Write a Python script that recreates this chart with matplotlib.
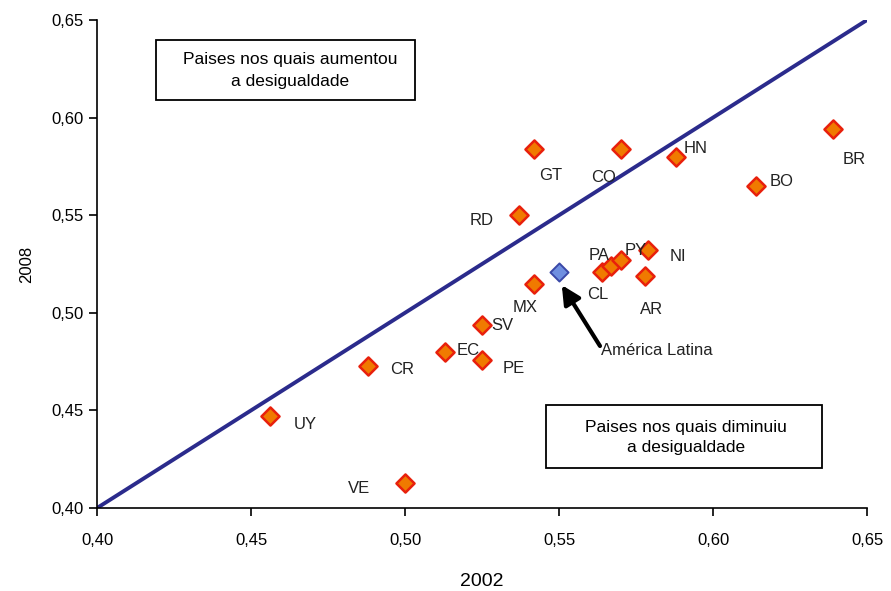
import numpy as np
import matplotlib
matplotlib.use('Agg')
import matplotlib.pyplot as plt
from matplotlib.patches import Rectangle

plt.rcParams['font.family'] = ['Liberation Sans', 'DejaVu Sans']

# dados: indice de Gini 2002 x 2008
paises = ['UY', 'VE', 'CR', 'EC', 'PE', 'SV', 'MX', 'RD', 'GT', 'CO', 'HN', 'BO', 'BR',
          'CL', 'PA', 'PY', 'NI', 'AR']
gini_2002 = [0.456, 0.500, 0.488, 0.513, 0.525, 0.525, 0.542, 0.537, 0.542, 0.570, 0.588,
             0.614, 0.639, 0.564, 0.567, 0.570, 0.579, 0.578]
gini_2008 = [0.447, 0.413, 0.473, 0.480, 0.476, 0.494, 0.515, 0.550, 0.584, 0.584, 0.580,
             0.565, 0.594, 0.521, 0.524, 0.527, 0.532, 0.519]
al_2002 = 0.550
al_2008 = 0.521

# deslocamento do centro dos rotulos (pontos)
offsets = {'UY': (26, -6), 'VE': (-33, -4), 'CR': (24.5, -3), 'EC': (16.5, 0.7),
           'PE': (23, -6.5), 'SV': (14.4, -0.7), 'MX': (-7, -17), 'RD': (-27, -3.6),
           'GT': (12, -19.4), 'CO': (-12, -21), 'HN': (14.4, 5.8), 'BO': (18.7, 2.9),
           'BR': (15, -21.6), 'CL': (-3, -16.6), 'PA': (-8.6, 7.2), 'PY': (10.8, 7.2),
           'NI': (21.6, -4.3), 'AR': (4.3, -24.5)}

fig = plt.figure(figsize=(8.91, 5.91), dpi=100)
ax = fig.add_axes([0.1089, 0.1404, 0.8642, 0.8258])

ax.plot([0.40, 0.65], [0.40, 0.65], color='#2B2B8C', lw=2.8, zorder=2)

ax.scatter(gini_2002, gini_2008, marker='D', s=85, facecolor='#F07A00',
           edgecolor='#E8200C', linewidth=1.8, zorder=3)
ax.scatter([al_2002], [al_2008], marker='D', s=85, facecolor='#6F8FE0',
           edgecolor='#3A48A8', linewidth=1.4, zorder=3)

for p, x, y in zip(paises, gini_2002, gini_2008):
    dx, dy = offsets[p]
    ax.annotate(p, (x, y), xytext=(dx, dy), textcoords='offset points',
                fontsize=12, ha='center', va='center', color='#222222')

# seta para America Latina
ax.annotate('', xy=(0.5509, 0.5142), xytext=(0.5633, 0.4830),
            arrowprops=dict(arrowstyle='-|>', color='black', lw=3, mutation_scale=28,
                            shrinkA=0, shrinkB=0))
ax.text(0.5635, 0.4805, 'América Latina', fontsize=12, ha='left', va='center',
        color='#222222')

# caixas de texto
ax.add_patch(Rectangle((0.4192, 0.6090), 0.0841, 0.0308, facecolor='white',
                       edgecolor='black', lw=1.3, zorder=4))
ax.text(0.4627, 0.6240, 'Paises nos quais aumentou\na desigualdade', ha='center',
        va='center', fontsize=12.5, linespacing=1.55, zorder=5)
ax.add_patch(Rectangle((0.5458, 0.4205), 0.0896, 0.0323, facecolor='white',
                       edgecolor='black', lw=1.3, zorder=4))
ax.text(0.5912, 0.4360, 'Paises nos quais diminuiu\na desigualdade', ha='center',
        va='center', fontsize=12.5, linespacing=1.4, zorder=5)

ax.set_xlim(0.40, 0.65)
ax.set_ylim(0.40, 0.65)
ticks = [0.40, 0.45, 0.50, 0.55, 0.60, 0.65]
ax.set_xticks(ticks)
ax.set_yticks(ticks)
ax.set_xticklabels([('%.2f' % t).replace('.', ',') for t in ticks], fontsize=12)
ax.set_yticklabels([('%.2f' % t).replace('.', ',') for t in ticks], fontsize=12)
ax.tick_params(direction='out', length=6, width=1.2, pad=12)
ax.tick_params(axis='y', pad=4)
for s in ['top', 'right']:
    ax.spines[s].set_visible(False)
for s in ['left', 'bottom']:
    ax.spines[s].set_linewidth(1.2)

ax.set_xlabel('2002', fontsize=14, labelpad=18)
ax.set_ylabel('2008', fontsize=12, labelpad=12)

fig.savefig('out.png', dpi=100)
